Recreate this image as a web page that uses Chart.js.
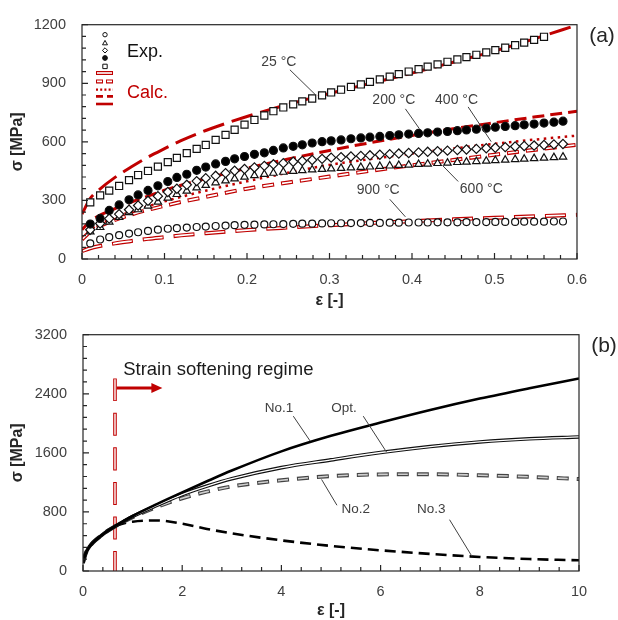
<!DOCTYPE html>
<html>
<head>
<meta charset="utf-8">
<script src="https://cdn.jsdelivr.net/npm/chart.js@4.4.1/dist/chart.umd.min.js"></script>
<style>
  body { margin: 0; background: #fff; }
  canvas { position: absolute; left: 0; }
  #chartA { top: 0; }
  #chartB { top: 310px; }
</style>
</head>
<body>
<canvas id="chartA" width="618" height="310"></canvas>
<canvas id="chartB" width="618" height="310"></canvas>
<script>
// (a) measured flow curves and fitted model, five temperatures
const expStrain = [0.010, 0.022, 0.033, 0.045, 0.057, 0.068, 0.080, 0.092, 0.104, 0.115,
                   0.127, 0.139, 0.150, 0.162, 0.174, 0.185, 0.197, 0.209, 0.221, 0.232,
                   0.244, 0.256, 0.267, 0.279, 0.291, 0.302, 0.314, 0.326, 0.338, 0.349,
                   0.361, 0.373, 0.384, 0.396, 0.408, 0.419, 0.431, 0.443, 0.455, 0.466,
                   0.478, 0.490, 0.501, 0.513, 0.525, 0.536, 0.548, 0.560, 0.572, 0.583];
const exp25 = [290, 326, 350, 374, 404, 430, 451, 473, 496, 518,
               542, 564, 584, 610, 636, 662, 688, 712, 735, 757,
               776, 792, 807, 822, 838, 853, 867, 881, 894, 907,
               920, 934, 947, 960, 972, 985, 997, 1010, 1022, 1034,
               1046, 1058, 1070, 1082, 1095, 1108, 1122, 1138];
const exp200 = [179, 208, 249, 277, 303, 328, 351, 375, 397, 418,
                434, 454, 471, 487, 500, 513, 525, 536, 544, 556,
                569, 577, 585, 594, 601, 605, 610, 616, 620, 624,
                628, 632, 636, 640, 643, 646, 650, 653, 657, 661,
                665, 670, 675, 679, 683, 687, 691, 696, 701, 706];
const exp400 = [150, 182, 207, 230, 252, 274, 298, 322, 343, 360,
                380, 399, 414, 426, 440, 452, 461, 469, 477, 485,
                491, 498, 502, 507, 513, 519, 522, 525, 528, 531,
                534, 537, 540, 543, 546, 549, 552, 555, 558, 561,
                564, 567, 570, 573, 576, 579, 581, 584, 587, 589];
const exp600 = [140, 162, 190, 214, 238, 253, 272, 292, 313, 331,
                348, 365, 378, 391, 401, 411, 420, 428, 434, 440,
                445, 450, 453, 457, 460, 462, 465, 467, 470, 472,
                475, 477, 480, 482, 485, 487, 490, 492, 495, 497,
                500, 502, 505, 507, 510, 512, 515, 517, 520, 523];
const exp900 = [80, 100, 112, 122, 130, 137, 144, 150, 155, 158,
                161, 164, 166, 169, 171, 173, 175, 176, 177, 178,
                179, 180, 181, 181, 182, 183, 183, 184, 184, 185,
                185, 186, 186, 187, 187, 187, 188, 188, 188, 189,
                189, 189, 190, 190, 190, 191, 191, 191, 192, 192];

const calcStrain = [0, 0.01, 0.02, 0.04, 0.06, 0.08, 0.1, 0.12, 0.15, 0.2, 0.25, 0.3, 0.35, 0.4, 0.45, 0.5, 0.55, 0.6];
const calc25 = [230, 310, 352, 418, 472, 522, 565, 606, 658, 730, 792, 848, 900, 952, 1008, 1065, 1130, 1198];
const calc200 = [150, 195, 220, 258, 292, 322, 352, 378, 412, 465, 512, 556, 596, 633, 667, 698, 728, 757];
const calc400 = [110, 150, 175, 212, 243, 270, 295, 318, 350, 398, 442, 482, 512, 540, 566, 590, 612, 632];
const calc600 = [100, 140, 165, 200, 228, 252, 272, 292, 318, 360, 392, 422, 452, 480, 507, 534, 560, 585];
const calc900 = [40, 55, 65, 80, 92, 103, 112, 121, 132, 148, 161, 173, 184, 194, 203, 211, 219, 226];

const aStrainTicks = [0, 0.1, 0.2, 0.3, 0.4, 0.5, 0.6];
const aStressTicks = [0, 300, 600, 900, 1200];

const aNotes = [
  { text: '25 °C', at: [0.2385, 1008], from: [0.252, 969], to: [0.283, 841] },
  { text: '200 °C', at: [0.378, 815], from: [0.392, 769], to: [0.409, 667] },
  { text: '400 °C', at: [0.454, 815], from: [0.468, 779], to: [0.496, 601] },
  { text: '600 °C', at: [0.484, 359], from: [0.456, 397], to: [0.437, 479] },
  { text: '900 °C', at: [0.359, 353], from: [0.373, 306], to: [0.392, 216] }
];

// (b) the same model pushed to large strain
const bStrain = [0, 0.05, 0.1, 0.2, 0.35, 0.5, 0.65, 1, 1.5, 2, 2.5, 3, 4, 5, 6, 7, 8, 9, 10];
const no1 = [110, 230, 300, 385, 470, 545, 608, 745, 910, 1065, 1215, 1360, 1620, 1830, 2010, 2180, 2335, 2475, 2608];
const opt = [110, 230, 300, 385, 470, 545, 606, 738, 892, 1035, 1150, 1250, 1400, 1505, 1605, 1685, 1748, 1790, 1815];
const no2 = [110, 230, 300, 385, 470, 545, 605, 730, 870, 985, 1075, 1145, 1228, 1285, 1308, 1310, 1297, 1275, 1245];
const no3 = [110, 230, 300, 385, 470, 545, 606, 668, 684, 640, 570, 510, 415, 340, 280, 232, 190, 162, 145];
const softeningStrain = [0.645, 0.645];
const softeningStress = [2608, 0];

const bStrainTicks = [0, 2, 4, 6, 8, 10];
const bStressTicks = [0, 800, 1600, 2400, 3200];

const bNotes = [
  { text: 'No.1', at: [3.95, 2205], from: [4.24, 2097], to: [4.58, 1760] },
  { text: 'Opt.', at: [5.26, 2205], from: [5.65, 2097], to: [6.12, 1610] },
  { text: 'No.2', at: [5.5, 833], from: [5.12, 890], to: [4.81, 1240] },
  { text: 'No.3', at: [7.02, 833], from: [7.39, 695], to: [7.84, 200] }
];

const RED = '#c00000';
const INK = '#262626';

Chart.defaults.font.family = '"Liberation Sans", Arial, sans-serif';

function pts(xs, ys) {
  return ys.map((v, i) => ({ x: xs[i], y: v }));
}

function marks(ys, style, radius, fill) {
  return {
    data: pts(expStrain, ys), showLine: false,
    pointStyle: style, pointRadius: radius, pointBorderWidth: 1.2,
    pointBorderColor: '#111', pointBackgroundColor: fill, order: 0
  };
}

function curve(xs, ys, color, width, dash, order) {
  return {
    data: pts(xs, ys), borderColor: color, borderWidth: width,
    borderDash: dash || [], pointRadius: 0, fill: false,
    cubicInterpolationMode: 'monotone', order: order
  };
}

// outlined line: wide stroke with a thin light stroke laid on top
function hollow(xs, ys, outer, inner, wOut, wIn, dash, order) {
  const base = curve(xs, ys, outer, wOut, dash, order + 1);
  const core = curve(xs, ys, inner, wIn, dash ? [dash[0] - 2, dash[1] + 2] : [], order);
  if (dash) core.borderDashOffset = -1;
  return [base, core];
}

// box round the plot, inward major/minor ticks and the panel tag
const frameTicks = {
  id: 'frameTicks',
  afterDatasetsDraw(chart, args, o) {
    const { ctx, chartArea: ca, scales: { x, y } } = chart;
    ctx.save();
    ctx.strokeStyle = INK;
    ctx.lineWidth = 1.2;
    ctx.beginPath();
    const nx = Math.round((x.max - x.min) / o.xMinor);
    for (let i = 0; i <= nx; i++) {
      const px = x.getPixelForValue(x.min + i * o.xMinor);
      const len = i % o.every === 0 ? 6 : 4;
      ctx.moveTo(px, ca.bottom);
      ctx.lineTo(px, ca.bottom - len);
    }
    const ny = Math.round((y.max - y.min) / o.yMinor);
    for (let i = 0; i <= ny; i++) {
      const py = y.getPixelForValue(y.min + i * o.yMinor);
      const len = i % o.every === 0 ? 6 : 4;
      ctx.moveTo(ca.left, py);
      ctx.lineTo(ca.left + len, py);
    }
    ctx.stroke();
    ctx.strokeRect(ca.left, ca.top, ca.width, ca.height);
    ctx.fillStyle = INK;
    ctx.font = '21px "Liberation Sans", Arial, sans-serif';
    ctx.textAlign = 'center';
    ctx.textBaseline = 'middle';
    ctx.fillText(o.tag, ca.right + 25, ca.top + 12);
    ctx.restore();
  }
};

// temperature / case labels with leader lines, placed in data units
const notes = {
  id: 'notes',
  afterDatasetsDraw(chart, args, o) {
    const { ctx, scales: { x, y } } = chart;
    ctx.save();
    ctx.fillStyle = '#404040';
    ctx.strokeStyle = '#404040';
    ctx.lineWidth = 1;
    ctx.font = o.font;
    ctx.textAlign = 'center';
    ctx.textBaseline = 'middle';
    o.items.forEach(n => {
      ctx.fillText(n.text, x.getPixelForValue(n.at[0]), y.getPixelForValue(n.at[1]));
      ctx.beginPath();
      ctx.moveTo(x.getPixelForValue(n.from[0]), y.getPixelForValue(n.from[1]));
      ctx.lineTo(x.getPixelForValue(n.to[0]), y.getPixelForValue(n.to[1]));
      ctx.stroke();
    });
    ctx.restore();
  }
};

function keyMark(ctx, style, cx, cy, r, fill) {
  ctx.beginPath();
  if (style === 'circle') {
    ctx.arc(cx, cy, r, 0, Math.PI * 2);
  } else if (style === 'triangle') {
    ctx.moveTo(cx, cy - r);
    ctx.lineTo(cx + r * 0.95, cy + r * 0.7);
    ctx.lineTo(cx - r * 0.95, cy + r * 0.7);
    ctx.closePath();
  } else if (style === 'diamond') {
    ctx.moveTo(cx, cy - r);
    ctx.lineTo(cx + r, cy);
    ctx.lineTo(cx, cy + r);
    ctx.lineTo(cx - r, cy);
    ctx.closePath();
  } else {
    ctx.rect(cx - r, cy - r, 2 * r, 2 * r);
  }
  ctx.fillStyle = fill;
  ctx.fill();
  ctx.stroke();
}

function keyLine(ctx, x0, x1, yy, dash, width, color) {
  ctx.beginPath();
  ctx.setLineDash(dash);
  ctx.strokeStyle = color;
  ctx.lineWidth = width;
  ctx.moveTo(x0, yy);
  ctx.lineTo(x1, yy);
  ctx.stroke();
  ctx.setLineDash([]);
}

// stacked key in the upper left of panel (a)
const keyA = {
  id: 'keyA',
  afterDatasetsDraw(chart) {
    const { ctx, chartArea: ca } = chart;
    const mx = ca.left + 23;
    const x0 = ca.left + 14, x1 = ca.left + 31;
    ctx.save();
    ctx.strokeStyle = '#111';
    ctx.lineWidth = 1;
    keyMark(ctx, 'circle', mx, ca.top + 10, 2.2, '#fff');
    keyMark(ctx, 'triangle', mx, ca.top + 18.3, 2.6, '#fff');
    keyMark(ctx, 'diamond', mx, ca.top + 25.7, 2.6, '#fff');
    keyMark(ctx, 'circle', mx, ca.top + 33.3, 2.4, '#111');
    keyMark(ctx, 'rect', mx, ca.top + 41.7, 2.2, '#fff');

    keyLine(ctx, x0, x1, ca.top + 48.3, [], 4, RED);
    keyLine(ctx, x0 + 1, x1 - 1, ca.top + 48.3, [], 1.6, '#fff');
    keyLine(ctx, x0, x1, ca.top + 56.7, [7, 3], 4, RED);
    keyLine(ctx, x0 + 1, x1, ca.top + 56.7, [5, 5], 1.6, '#fff');
    keyLine(ctx, x0, x1, ca.top + 65, [2, 2.2], 2.2, RED);
    keyLine(ctx, x0, x1, ca.top + 71.7, [7, 4], 2.6, RED);
    keyLine(ctx, x0, x1, ca.top + 79.3, [], 2.6, RED);

    ctx.font = '18px "Liberation Sans", Arial, sans-serif';
    ctx.textAlign = 'left';
    ctx.textBaseline = 'middle';
    ctx.fillStyle = '#111';
    ctx.fillText('Exp.', ca.left + 45, ca.top + 27);
    ctx.fillStyle = RED;
    ctx.fillText('Calc.', ca.left + 45, ca.top + 68);
    ctx.restore();
  }
};

// regime label and arrow right of the softening onset
const regimeB = {
  id: 'regimeB',
  afterDatasetsDraw(chart) {
    const { ctx, scales: { x, y } } = chart;
    ctx.save();
    ctx.fillStyle = '#1a1a1a';
    ctx.font = '18.5px "Liberation Sans", Arial, sans-serif';
    ctx.textAlign = 'left';
    ctx.textBaseline = 'middle';
    ctx.fillText('Strain softening regime', x.getPixelForValue(0.81), y.getPixelForValue(2729));
    const ay = y.getPixelForValue(2478);
    const ax0 = x.getPixelForValue(0.68), ax1 = x.getPixelForValue(1.6);
    ctx.strokeStyle = RED;
    ctx.fillStyle = RED;
    ctx.lineWidth = 3;
    ctx.beginPath();
    ctx.moveTo(ax0, ay);
    ctx.lineTo(ax1 - 8, ay);
    ctx.stroke();
    ctx.beginPath();
    ctx.moveTo(ax1, ay);
    ctx.lineTo(ax1 - 11, ay - 5);
    ctx.lineTo(ax1 - 11, ay + 5);
    ctx.closePath();
    ctx.fill();
    ctx.restore();
  }
};

function axes(xTicks, yTicks, xRange, yRange, leftW, bottomH) {
  const tickFont = { size: 14.5 };
  return {
    x: {
      type: 'linear', min: xRange[0], max: xRange[1],
      grid: { display: false, drawTicks: false }, border: { display: false },
      ticks: { color: '#404040', font: tickFont, padding: 12, maxRotation: 0, callback: v => String(v) },
      title: { display: true, text: 'ε [-]', color: INK, font: { size: 16, weight: 'bold' }, padding: { top: 0, bottom: 0 } },
      afterBuildTicks: s => { s.ticks = xTicks.map(v => ({ value: v })); },
      afterFit: s => { s.height = bottomH; }
    },
    y: {
      type: 'linear', min: yRange[0], max: yRange[1],
      grid: { display: false, drawTicks: false }, border: { display: false },
      ticks: { color: '#404040', font: tickFont, padding: 16, callback: v => String(v) },
      title: { display: true, text: 'σ [MPa]', color: INK, font: { size: 16, weight: 'bold' }, padding: { top: 8, bottom: 0 } },
      afterBuildTicks: s => { s.ticks = yTicks.map(v => ({ value: v })); },
      afterFit: s => { s.width = leftW; }
    }
  };
}

const dataA = [
  marks(exp25, 'rect', 5, '#fff'),
  marks(exp200, 'circle', 4, '#000'),
  marks(exp400, 'rectRot', 4.6, '#fff'),
  marks(exp600, 'triangle', 4.3, '#fff'),
  marks(exp900, 'circle', 3.5, '#fff'),
  curve(calcStrain, calc25, RED, 3, [22, 8], 3),
  curve(calcStrain, calc200, RED, 3, [12, 6], 3),
  curve(calcStrain, calc400, RED, 2.5, [2.5, 4.5], 3),
  ...hollow(calcStrain, calc600, RED, '#fff', 4, 1.6, [12, 7], 1),
  ...hollow(calcStrain, calc900, RED, '#fff', 4, 1.6, [21, 10], 1)
];

new Chart(document.getElementById('chartA'), {
  type: 'line',
  data: { datasets: dataA },
  options: {
    responsive: false, animation: false, events: [],
    layout: { padding: { top: 15, right: 41, bottom: 0, left: 0 } },
    scales: axes(aStrainTicks, aStressTicks, [0, 0.6], [0, 1200], 82, 51),
    plugins: {
      legend: { display: false }, tooltip: { enabled: false },
      frameTicks: { xMinor: 0.02, yMinor: 60, every: 5, tag: '(a)' },
      notes: { items: aNotes, font: '14px "Liberation Sans", Arial, sans-serif' }
    }
  },
  plugins: [keyA, notes, frameTicks]
});

const dataB = [
  curve(bStrain, no1, '#000', 2.6, [], 0),
  ...hollow(bStrain, opt, '#111', '#fff', 3.6, 1.3, null, 1),
  ...hollow(bStrain, no2, '#444', '#cfcfcf', 4, 1.6, [12, 8], 3),
  curve(bStrain, no3, '#000', 2.6, [11, 6], 5),
  ...hollow(softeningStrain, softeningStress, RED, '#fff', 3.6, 1.4, [23, 11.5], 6)
];

new Chart(document.getElementById('chartB'), {
  type: 'line',
  data: { datasets: dataB },
  options: {
    responsive: false, animation: false, events: [],
    layout: { padding: { top: 23, right: 39, bottom: 0, left: 0 } },
    scales: axes(bStrainTicks, bStressTicks, [0, 10], [0, 3200], 83, 49),
    plugins: {
      legend: { display: false }, tooltip: { enabled: false },
      frameTicks: { xMinor: 0.4, yMinor: 160, every: 5, tag: '(b)' },
      notes: { items: bNotes, font: '13.5px "Liberation Sans", Arial, sans-serif' }
    }
  },
  plugins: [regimeB, notes, frameTicks]
});
</script>
</body>
</html>
